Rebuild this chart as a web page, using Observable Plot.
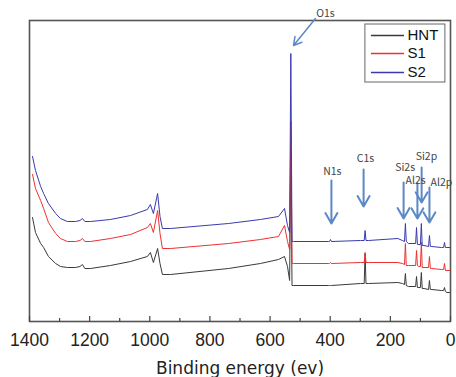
<!DOCTYPE html>
<html><head><meta charset="utf-8">
<script src="https://cdn.jsdelivr.net/npm/d3@7"></script>
<script src="https://cdn.jsdelivr.net/npm/@observablehq/plot@0.6"></script>
<style>body{margin:0;background:#fff}</style>
</head><body><div id="chart"></div>
<script>
// Binding energies (eV) shared by the three spectra
const energies = [1390,1380,1363,1353,1337,1313,1297,1274,1247,1232,1224,1216,1197,1131,1064,1008,998,988,974,966,958,931,738,632,572,552,542,535,531,527,522,406,402,399,396,299,287,284,281,273,175,160,153,150,147,140,116,113,110,105,100,97,94,88,73,70,67,62,30,23,20,17,12,0];
// Intensities (arbitrary units, offset spectra)
const hnt = [104,89,78,74,65,58,55,54,54,55,57,53,53,56,60,65,69,59,73,58,47,47,53,58,62,65,55,41,170,36,36,36,36,36,36,38,38,68,38,38,39,38,37,48,36,35,35,45,34,34,34,49,33,33,32,41,32,32,31,31,34,30,29,29];
const s1 = [147,133,121,113,99,88,83,80,80,81,83,80,80,83,87,94,98,89,111,88,73,73,78,82,85,96,80,72,200,58,58,58,58,59,58,59,59,69,59,59,59,58,57,78,56,56,56,71,56,55,55,79,54,54,54,65,53,53,52,52,58,51,51,51];
const s2 = [165,151,135,128,118,108,103,100,100,101,103,100,100,102,106,112,117,108,128,105,93,93,98,102,105,113,96,89,268,80,80,80,80,82,80,81,81,91,81,81,83,81,80,98,80,78,78,94,77,77,77,98,76,76,75,86,75,75,74,74,79,74,74,74];

const seriesNames = ["HNT", "S1", "S2"];
const seriesColors = ["#3a3a3a", "#ee3030", "#3a3aae"];

const xTicks = [1400,1200,1000,800,600,400,200,0];
const xMinorTicks = [1300,1100,900,700,500,300,100];

// Peak annotations
const peakLabels = ["N1s","C1s","Si2s","Al2s","Si2p","Al2p"];
const arrowX = [396,289,156,110,96,70];
const arrowTop = [141,152,139,138,154,134];
const arrowBottom = [98,115,103,103,119,99];
const labelX = [393,283,151,116,80,30];
const labelY = [150,163,154,141,165,139];
// O1s annotation
const o1sLabel = ["O1s"];
const o1sArrow = [449,303,522,276];
const o1sLabelPos = [416,308];

// Legend placement (in data units)
const legendBox = [283,17,297,239];
const legendLineX = [263,153];
const legendTextX = 143;
const legendY = [286,268,249];

const seriesValues = [hnt, s1, s2];
const rows = seriesNames.flatMap((name, i) =>
  energies.map((e, j) => ({series: name, energy: e, intensity: seriesValues[i][j]})));

const font = "'Liberation Sans', Arial, sans-serif";
const labelFont = "'Noto Sans CJK SC', 'Noto Sans', sans-serif";

const chart = Plot.plot({
  width: 456,
  height: 377,
  marginLeft: 29,
  marginRight: 6,
  marginTop: 20,
  marginBottom: 56,
  style: {fontFamily: font, background: "#fff"},
  x: {domain: [1400, 0], axis: null},
  y: {domain: [0, 301], axis: null},
  color: {domain: seriesNames, range: seriesColors},
  marks: [
    Plot.line(rows, {x: "energy", y: "intensity", z: "series", stroke: "series", strokeWidth: 1}),
    Plot.frame({stroke: "#555", strokeWidth: 1.6}),
    Plot.ruleX(xTicks, {x: d => d, y1: 0, y2: 5, stroke: "#444", strokeWidth: 1.2}),
    Plot.ruleX(xMinorTicks, {x: d => d, y1: 0, y2: 3, stroke: "#444", strokeWidth: 1.2}),
    Plot.text(xTicks, {x: d => d, y: 0, dy: 19, text: d => String(d), fontSize: 17.5, fill: "#222", lineAnchor: "middle"}),
    Plot.text(["Binding energy (ev)"], {frameAnchor: "bottom", dy: 47, fontSize: 17, fill: "#222", lineAnchor: "middle", fontFamily: "'DejaVu Sans', sans-serif"}),
    Plot.arrow(peakLabels, {x1: (d, i) => arrowX[i], y1: (d, i) => arrowTop[i], x2: (d, i) => arrowX[i], y2: (d, i) => arrowBottom[i], stroke: "#5b88c6", strokeWidth: 2, headLength: 9}),
    Plot.text(peakLabels, {x: (d, i) => labelX[i], y: (d, i) => labelY[i], text: d => d, fontSize: 10.5, fill: "#444", fontFamily: labelFont}),
    Plot.arrow(o1sLabel, {x1: o1sArrow[0], y1: o1sArrow[1], x2: o1sArrow[2], y2: o1sArrow[3], stroke: "#5b88c6", strokeWidth: 1.5, headLength: 9}),
    Plot.text(o1sLabel, {x: o1sLabelPos[0], y: o1sLabelPos[1], text: d => d, fontSize: 10.5, fill: "#444", fontFamily: labelFont}),
    // legend
    Plot.rect([0], {x1: legendBox[0], x2: legendBox[1], y1: legendBox[2], y2: legendBox[3], fill: "#fff", stroke: "#666", strokeWidth: 1}),
    Plot.ruleY(seriesNames, {y: (d, i) => legendY[i], x1: legendLineX[0], x2: legendLineX[1], stroke: d => d, strokeWidth: 1.3}),
    Plot.text(seriesNames, {x: legendTextX, y: (d, i) => legendY[i], text: d => d, textAnchor: "start", fontSize: 15, fill: "#111"})
  ]
});
document.getElementById("chart").appendChild(chart);
</script>
</body></html>
